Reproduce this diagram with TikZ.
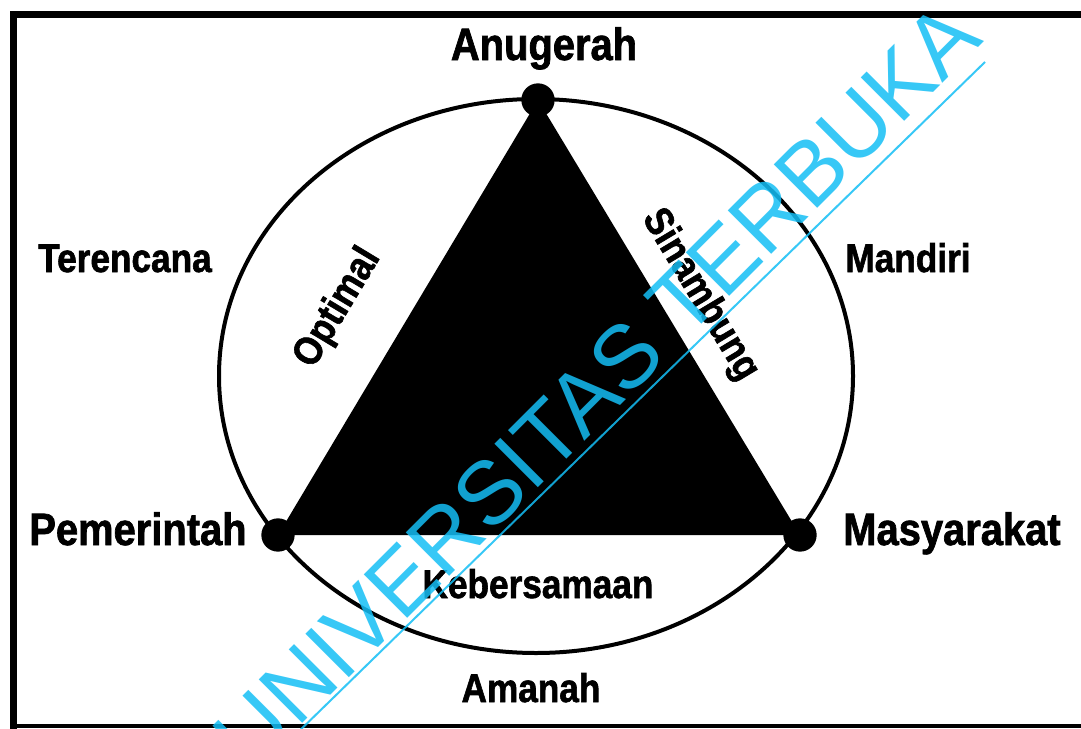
\documentclass[tikz,border=0pt]{standalone}
\usepackage{fontspec}
\setmainfont{Liberation Sans}
\newfontfamily\labelfont[FakeStretch=0.88, BoldFeatures={FakeBold=1.5}]{Liberation Sans}
\definecolor{utblue}{RGB}{20,190,245}
\tikzset{
  vertexword/.style={font=\labelfont\bfseries\fontsize{34}{34}\selectfont, anchor=base, inner sep=0pt},
  valueword/.style={font=\labelfont\bfseries\fontsize{30}{30}\selectfont, anchor=base, inner sep=0pt},
  sideword/.style={font=\labelfont\bfseries\fontsize{30}{30}\selectfont, inner sep=0pt},
  vdot/.style={circle, fill=black, inner sep=0pt, minimum size=25pt},
}
\begin{document}
\begin{tikzpicture}[x=0.75pt, y=-0.75pt]
    \useasboundingbox (0,0) rectangle (1081,728);

    % Frame
    \draw[line width=5.25pt] (1090,14.5) -- (13,14.5);
    \draw[line width=5.25pt] (13,11) -- (13,740);
    \draw[line width=3pt] (13,726) -- (1090,726);

    % Outer ring
    \draw[line width=3pt] (536,376) ellipse [x radius=317, y radius=277];

    % Corner points of the triangle
    \node[vdot] (anugerah) at (538,100) {};
    \node[vdot] (pemerintah) at (278,535) {};
    \node[vdot] (masyarakat) at (800,535) {};
    \fill (anugerah.center) -- (pemerintah.center) -- (masyarakat.center) -- cycle;

    % Corner labels
    \node[vertexword] (tanugerah) at (544,60) {Anugerah};
    \node[vertexword] (tpemerintah) at (138,545) {Pemerintah};
    \node[vertexword] (tmasyarakat) at (952,545) {Masyarakat};

    % Values around the ring
    \node[valueword] (tterencana) at (125,272) {Terencana};
    \node[valueword] (tmandiri) at (908,272) {Mandiri};
    \node[valueword] (tamanah) at (531,702) {Amanah};

    % Values along the sides
    \node[sideword, rotate=59] (toptimal) at (338,308) {Optimal};
    \node[sideword, rotate=-59] (tsinambung) at (700,295) {Sinambung};
    \node[valueword] (tkebersamaan) at (538,598) {Kebersamaan};

    % Watermark
    \node[font=\fontsize{67}{67}\selectfont, text=utblue, opacity=0.85, anchor=base, inner sep=0pt, rotate=45] (watermark) at (618,408) {UNIVERSITAS TERBUKA};
    \draw[utblue, opacity=0.85, line width=1.5pt] (290,740) -- (985,62);

\end{tikzpicture}
\end{document}
